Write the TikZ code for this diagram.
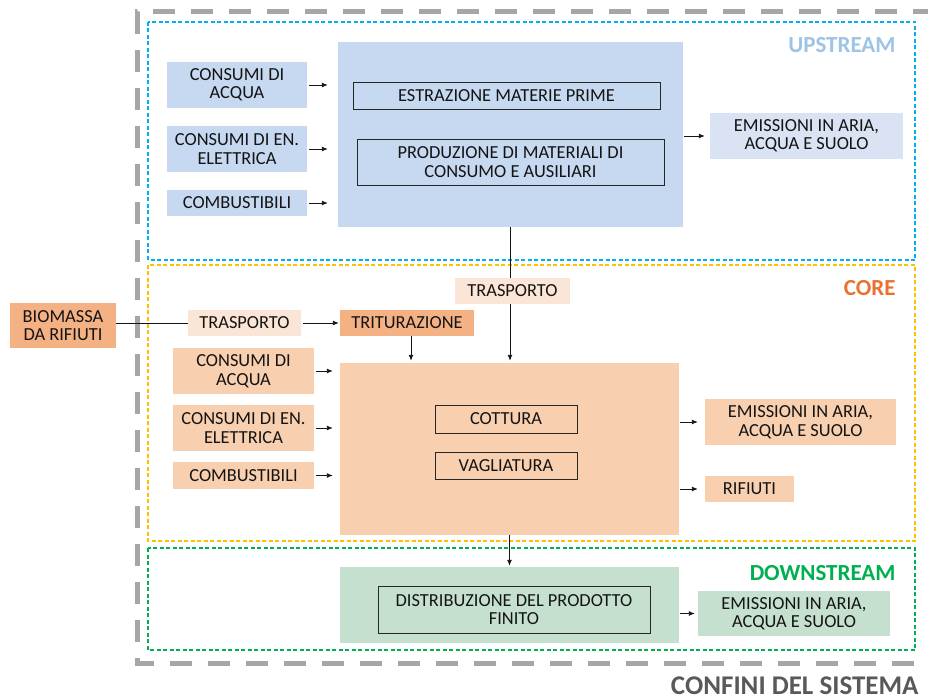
\documentclass[tikz,border=0pt]{standalone}
\usepackage{fontspec}
\setmainfont{Carlito}
\usetikzlibrary{arrows.meta}
\definecolor{txt}{HTML}{141414}
\definecolor{upfill}{HTML}{C6D9F1}
\definecolor{upemi}{HTML}{DAE3F3}
\definecolor{uplab}{HTML}{9DC3E6}
\definecolor{upline}{HTML}{00B0F0}
\definecolor{orDark}{HTML}{F4B183}
\definecolor{orMid}{HTML}{F8CFAF}
\definecolor{orLight}{HTML}{FBE5D6}
\definecolor{coreline}{HTML}{FFC000}
\definecolor{corelab}{HTML}{E97132}
\definecolor{grfill}{HTML}{C5E0CF}
\definecolor{grline}{HTML}{00B050}
\definecolor{bound}{HTML}{A6A6A6}
\definecolor{boundlab}{HTML}{595959}
\definecolor{inborder}{HTML}{262626}
\begin{document}
\begin{tikzpicture}[x=1pt,y=-1pt,
  box/.style={rectangle, inner sep=0pt, align=center, text=txt,
    font=\fontsize{18.4}{18.5}\selectfont},
  inbox/.style={box, draw=inborder, line width=0.9pt},
  arr/.style={-{Latex[length=6pt,width=5pt]}, line width=0.9pt, draw=txt},
  plain/.style={line width=0.9pt, draw=txt},
  frame/.style={dash pattern=on 4pt off 2.5pt, line width=1.4pt},
  lab/.style={anchor=base east, font=\fontsize{23}{23}\selectfont\bfseries}]
\useasboundingbox (0,0) rectangle (928,700);

% system boundary
\draw[bound, line width=5pt, dash pattern=on 22pt off 16pt]
  (935,12) -- (137,12) -- (137,663) -- (935,663);
\node[anchor=base east, font=\fontsize{27}{27}\selectfont\bfseries, text=boundlab] (conf) at (922,694) {CONFINI DEL SISTEMA};

% stage frames
\draw[frame, upline] (148,22) rectangle (915,260);
\draw[frame, coreline] (148,265) rectangle (915,541);
\draw[frame, grline] (148,548) rectangle (915,650);
\node[lab, text=uplab] (lup) at (899,53) {UPSTREAM};
\node[lab, text=corelab] (lcore) at (899,295) {CORE};
\node[lab, text=grline] (ldown) at (899,580) {DOWNSTREAM};

% UPSTREAM
\node[box, fill=upfill, minimum width=345pt, minimum height=185pt] (ubig) at (510.5,134.5) {};
\node[inbox, minimum width=307pt, minimum height=27pt] (uestr) at (506.5,95.5) {ESTRAZIONE MATERIE PRIME};
\node[inbox, minimum width=307pt, minimum height=46pt] (uprod) at (510.5,162) {PRODUZIONE DI MATERIALI DI\\CONSUMO E AUSILIARI};
\node[box, fill=upfill, minimum width=140pt, minimum height=46pt] (uacq) at (237,85) {CONSUMI DI\\ACQUA};
\node[box, fill=upfill, minimum width=140pt, minimum height=46pt] (uen) at (237,149) {CONSUMI DI EN.\\ELETTRICA};
\node[box, fill=upfill, minimum width=140pt, minimum height=26pt] (ucomb) at (237,203) {COMBUSTIBILI};
\node[box, fill=upemi, minimum width=193pt, minimum height=46pt] (uemi) at (806.5,136) {EMISSIONI IN ARIA,\\ACQUA E SUOLO};
\foreach \n in {uacq,uen,ucomb}
  \draw[arr, shorten <=2pt, shorten >=10pt] (\n.east) -- (\n.east -| ubig.west);
\draw[arr, shorten <=1pt, shorten >=5pt] (ubig.east |- uemi.west) -- (uemi.west);

% CORE
\node[box, fill=orMid, minimum width=339pt, minimum height=172pt] (cbig) at (509.5,449) {};
\node[inbox, minimum width=142pt, minimum height=28pt] (ccott) at (506,419) {COTTURA};
\node[inbox, minimum width=142pt, minimum height=27pt] (cvagl) at (506,465.5) {VAGLIATURA};
\node[box, fill=orDark, minimum width=106pt, minimum height=45pt] (biom) at (63,325.5) {BIOMASSA\\DA RIFIUTI};
\node[box, fill=orLight, minimum width=113pt, minimum height=26pt] (ctras) at (244.5,323) {TRASPORTO};
\node[box, fill=orDark, minimum width=134pt, minimum height=26pt] (ctrit) at (407,323) {TRITURAZIONE};
\node[box, fill=orMid, minimum width=141pt, minimum height=46pt] (cacq) at (243.5,371) {CONSUMI DI\\ACQUA};
\node[box, fill=orMid, minimum width=141pt, minimum height=46pt] (cen) at (243.5,428) {CONSUMI DI EN.\\ELETTRICA};
\node[box, fill=orMid, minimum width=141pt, minimum height=27pt] (ccomb) at (243.5,475.5) {COMBUSTIBILI};
\node[box, fill=orMid, minimum width=191pt, minimum height=46pt] (cemi) at (800.5,422) {EMISSIONI IN ARIA,\\ACQUA E SUOLO};
\node[box, fill=orMid, minimum width=89pt, minimum height=26pt] (crif) at (749.5,489) {RIFIUTI};
\foreach \n in {cacq,cen,ccomb}
  \draw[arr, shorten <=2pt, shorten >=7pt] (\n.east) -- (\n.east -| cbig.west);
\draw[arr, shorten <=1pt, shorten >=7pt] (cbig.east |- cemi.west) -- (cemi.west);
\draw[arr, shorten <=1pt, shorten >=7pt] (cbig.east |- crif.west) -- (crif.west);
\draw[plain] (biom.east |- ctras.west) -- (ctras.west);
\draw[arr, shorten <=2pt, shorten >=1pt] (ctras.east) -- (ctrit.west);
\draw[arr, shorten >=2pt] ([xshift=4pt]ctrit.south) -- ([xshift=4pt]ctrit.south |- cbig.north);

% link upstream -> core with transport
\draw[arr, shorten >=2pt] ([xshift=-0.5pt]ubig.south) -- ([xshift=0.5pt]cbig.north);
\node[box, fill=orLight, minimum width=115pt, minimum height=26pt] (ctrtop) at (512.5,291) {TRASPORTO};

% DOWNSTREAM
\node[box, fill=grfill, minimum width=339pt, minimum height=76pt] (dbig) at (509.5,605) {};
\node[inbox, minimum width=272pt, minimum height=47pt] (dinner) at (514,609.5) {DISTRIBUZIONE DEL PRODOTTO\\FINITO};
\node[box, fill=grfill, minimum width=192pt, minimum height=45pt] (demi) at (794,613.5) {EMISSIONI IN ARIA,\\ACQUA E SUOLO};
\draw[arr, shorten >=1pt] (cbig.south) -- (dbig.north);
\draw[arr, shorten <=1pt, shorten >=3pt] (dbig.east |- demi.west) -- (demi.west);
\end{tikzpicture}
\end{document}
